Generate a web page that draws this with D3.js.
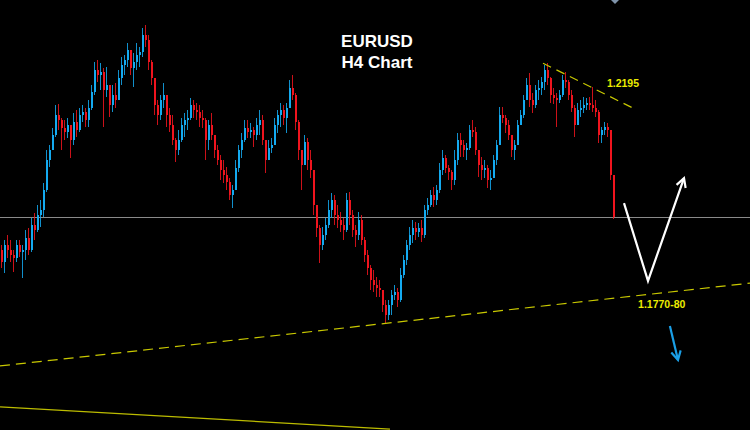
<!DOCTYPE html>
<html><head><meta charset="utf-8">
<script src="https://cdn.jsdelivr.net/npm/d3@7/dist/d3.min.js"></script>
<style>html,body{margin:0;padding:0;background:#000;}svg{display:block;}</style>
</head><body><svg id="c" width="750" height="430"></svg>
<script>
const firstOpen = 1.1858;
const highs = [1.1869,1.1880,1.1891,1.1880,1.1858,1.1880,1.1880,1.1869,1.1902,1.1906,
1.1928,1.1939,1.1957,1.1968,1.2005,1.2078,1.2089,1.2126,1.2177,1.2179,
1.2148,1.2144,1.2148,1.2133,1.2159,1.2166,1.2170,1.2177,1.2170,1.2188,
1.2221,1.2272,1.2276,1.2269,1.2258,1.2261,1.2221,1.2221,1.2225,1.2254,
1.2283,1.2287,1.2313,1.2298,1.2291,1.2313,1.2305,1.2346,1.2353,1.2331,
1.2276,1.2236,1.2188,1.2199,1.2225,1.2188,1.2170,1.2155,1.2104,1.2122,
1.2148,1.2159,1.2166,1.2192,1.2188,1.2181,1.2177,1.2166,1.2148,1.2144,
1.2159,1.2111,1.2089,1.2067,1.2056,1.2041,1.2016,1.2001,1.2056,1.2089,
1.2115,1.2144,1.2144,1.2137,1.2129,1.2148,1.2166,1.2155,1.2100,1.2100,
1.2104,1.2148,1.2166,1.2181,1.2177,1.2181,1.2232,1.2243,1.2203,1.2144,
1.2078,1.2111,1.2104,1.2078,1.2034,1.1957,1.1913,1.1909,1.1928,1.1968,
1.1983,1.1979,1.1957,1.1942,1.1928,1.1983,1.1986,1.1946,1.1913,1.1942,
1.1935,1.1887,1.1858,1.1825,1.1814,1.1799,1.1792,1.1770,1.1748,1.1748,
1.1770,1.1781,1.1774,1.1818,1.1847,1.1880,1.1909,1.1924,1.1920,1.1917,
1.1924,1.1957,1.1972,1.1990,1.1997,1.2001,1.2049,1.2078,1.2067,1.2045,
1.2034,1.2078,1.2115,1.2115,1.2100,1.2093,1.2133,1.2144,1.2129,1.2078,
1.2063,1.2056,1.2045,1.2034,1.2067,1.2100,1.2173,1.2173,1.2155,1.2144,
1.2107,1.2100,1.2144,1.2166,1.2199,1.2236,1.2247,1.2203,1.2221,1.2232,
1.2239,1.2265,1.2269,1.2239,1.2214,1.2203,1.2210,1.2243,1.2250,1.2232,
1.2210,1.2177,1.2181,1.2188,1.2195,1.2192,1.2195,1.2217,1.2188,1.2166,
1.2129,1.2140,1.2137,1.2122,1.2023];
const lows = [1.1818,1.1807,1.1840,1.1832,1.1810,1.1832,1.1843,1.1796,1.1836,1.1847,
1.1854,1.1880,1.1898,1.1909,1.1931,1.1986,1.2041,1.2078,1.2107,1.2122,
1.2078,1.2100,1.2104,1.2060,1.2089,1.2107,1.2118,1.2140,1.2129,1.2129,
1.2166,1.2199,1.2228,1.2210,1.2129,1.2195,1.2151,1.2162,1.2170,1.2188,
1.2221,1.2243,1.2261,1.2243,1.2217,1.2254,1.2261,1.2283,1.2305,1.2254,
1.2221,1.2155,1.2133,1.2144,1.2170,1.2129,1.2118,1.2089,1.2052,1.2067,
1.2096,1.2107,1.2122,1.2144,1.2148,1.2144,1.2129,1.2126,1.2056,1.2078,
1.2100,1.2060,1.2045,1.2012,1.2005,1.1990,1.1968,1.1950,1.1990,1.2030,
1.2060,1.2096,1.2104,1.2104,1.2085,1.2100,1.2111,1.2089,1.2027,1.2056,
1.2071,1.2089,1.2115,1.2129,1.2133,1.2115,1.2177,1.2188,1.2122,1.2056,
1.1990,1.2045,1.2034,1.2016,1.1935,1.1887,1.1829,1.1858,1.1880,1.1906,
1.1928,1.1913,1.1906,1.1898,1.1880,1.1898,1.1913,1.1887,1.1865,1.1880,
1.1869,1.1832,1.1803,1.1770,1.1766,1.1755,1.1755,1.1722,1.1697,1.1704,
1.1715,1.1748,1.1733,1.1744,1.1796,1.1825,1.1858,1.1873,1.1880,1.1887,
1.1876,1.1884,1.1935,1.1953,1.1953,1.1957,1.1983,1.2023,1.2027,1.2012,
1.1990,1.2001,1.2045,1.2063,1.2063,1.2056,1.2078,1.2107,1.2067,1.2019,
1.2012,1.2016,1.1994,1.1990,1.2023,1.2045,1.2100,1.2137,1.2115,1.2100,
1.2063,1.2056,1.2089,1.2133,1.2148,1.2188,1.2173,1.2159,1.2170,1.2188,
1.2199,1.2210,1.2221,1.2181,1.2179,1.2129,1.2181,1.2195,1.2214,1.2188,
1.2162,1.2107,1.2133,1.2151,1.2159,1.2166,1.2166,1.2162,1.2151,1.2093,
1.2093,1.2111,1.2107,1.2012,1.1926];
const closes = [1.1832,1.1869,1.1858,1.1847,1.1840,1.1869,1.1854,1.1858,1.1884,1.1858,
1.1913,1.1902,1.1935,1.1946,1.1990,1.2056,1.2078,1.2111,1.2155,1.2144,
1.2126,1.2118,1.2133,1.2100,1.2140,1.2122,1.2155,1.2162,1.2144,1.2170,
1.2206,1.2254,1.2243,1.2250,1.2210,1.2221,1.2177,1.2199,1.2188,1.2236,
1.2265,1.2276,1.2298,1.2258,1.2272,1.2287,1.2294,1.2331,1.2320,1.2272,
1.2236,1.2177,1.2155,1.2188,1.2199,1.2155,1.2133,1.2100,1.2078,1.2100,
1.2133,1.2144,1.2148,1.2177,1.2166,1.2162,1.2148,1.2144,1.2100,1.2133,
1.2111,1.2078,1.2056,1.2034,1.2023,1.2008,1.1979,1.1990,1.2038,1.2078,
1.2100,1.2126,1.2118,1.2122,1.2111,1.2133,1.2144,1.2100,1.2056,1.2082,
1.2089,1.2133,1.2155,1.2166,1.2148,1.2170,1.2214,1.2199,1.2140,1.2078,
1.2045,1.2096,1.2056,1.2034,1.1957,1.1906,1.1869,1.1891,1.1913,1.1946,
1.1968,1.1935,1.1924,1.1913,1.1902,1.1968,1.1935,1.1902,1.1891,1.1924,
1.1880,1.1847,1.1818,1.1792,1.1781,1.1774,1.1770,1.1737,1.1715,1.1737,
1.1759,1.1766,1.1748,1.1803,1.1836,1.1869,1.1891,1.1906,1.1898,1.1906,
1.1891,1.1946,1.1957,1.1979,1.1968,1.1990,1.2034,1.2060,1.2038,1.2030,
1.2012,1.2056,1.2100,1.2089,1.2078,1.2082,1.2122,1.2118,1.2078,1.2045,
1.2034,1.2038,1.2012,1.2016,1.2056,1.2089,1.2155,1.2148,1.2133,1.2111,
1.2078,1.2089,1.2133,1.2155,1.2188,1.2221,1.2188,1.2177,1.2210,1.2214,
1.2228,1.2254,1.2236,1.2199,1.2192,1.2188,1.2199,1.2232,1.2228,1.2199,
1.2170,1.2133,1.2166,1.2170,1.2177,1.2181,1.2177,1.2170,1.2162,1.2111,
1.2122,1.2129,1.2122,1.2023,1.1931];
// Annotations in (candle index, price) space
const resistanceLine = [[181, 1.2269], [212.3, 1.2166]];
const supportLine = [[0, 1.1603], [250, 1.1785]];
const lowerLine = [[0, 1.1513], [130, 1.1464]];
const scenarioPath = [[208, 1.1961], [216, 1.1790], [228, 1.2016]];
const downArrow = [[223.3, 1.1691], [226, 1.1616]];
const labels = [{text: "1.2195", i: 202.3, p: 1.2217}, {text: "1.1770-80", i: 212.7, p: 1.1730}];
const titleLines = ["EURUSD", "H4 Chart"];

const W = 750, H = 430;
const svg = d3.select("#c");
svg.append("rect").attr("width", W).attr("height", H).attr("fill", "#000");

const x = d3.scaleLinear().domain([0, 205]).range([0, 615]);
const y = d3.scaleLinear().domain([1.2408 - 0.00022 * 430, 1.2408]).range([H, 0]);

const candles = closes.map((c, i) => {
  const o = i === 0 ? firstOpen : closes[i - 1];
  return {i, o, c, h: Math.max(highs[i], o, c), l: Math.min(lows[i], o, c)};
});
const bull = "#14aaf0", bear = "#f0141e";

// current price line
svg.append("line").attr("x1", 0).attr("x2", W)
  .attr("y1", Math.round(y(closes[closes.length - 1])) + 0.5)
  .attr("y2", Math.round(y(closes[closes.length - 1])) + 0.5)
  .attr("stroke", "#8a8a8a").attr("stroke-width", 1);

const g = svg.append("g").attr("shape-rendering", "crispEdges");
g.selectAll("line.w").data(candles).join("line").attr("class", "w")
  .attr("x1", d => Math.floor(x(d.i + 0.5)) + 0.5).attr("x2", d => Math.floor(x(d.i + 0.5)) + 0.5)
  .attr("y1", d => y(d.h)).attr("y2", d => y(d.l))
  .attr("stroke", d => d.c >= d.o ? bull : bear).attr("stroke-width", 1).attr("opacity", 0.85);
g.selectAll("rect.b").data(candles).join("rect").attr("class", "b")
  .attr("x", d => Math.floor(x(d.i + 0.5)) - 0.5).attr("width", 2)
  .attr("y", d => y(Math.max(d.o, d.c)))
  .attr("height", d => Math.max(1, Math.abs(y(d.o) - y(d.c))))
  .attr("fill", d => d.c >= d.o ? bull : bear);

const line = d3.line().x(d => x(d[0])).y(d => y(d[1]));
svg.append("path").attr("d", line(resistanceLine)).attr("fill", "none")
  .attr("stroke", "#c8c800").attr("stroke-width", 1.2).attr("stroke-dasharray", "9,6");
svg.append("path").attr("d", line(supportLine)).attr("fill", "none")
  .attr("stroke", "#c8c800").attr("stroke-width", 1.2).attr("stroke-dasharray", "10,6");
svg.append("path").attr("d", line(lowerLine)).attr("fill", "none")
  .attr("stroke", "#bcbc00").attr("stroke-width", 1.2);

function arrow(pts, color) {
  svg.append("path").attr("d", line(pts)).attr("fill", "none")
    .attr("stroke", color).attr("stroke-width", 2.2).attr("stroke-linejoin", "miter");
  const a = pts[pts.length - 2], b = pts[pts.length - 1];
  const x1 = x(a[0]), y1 = y(a[1]), x2 = x(b[0]), y2 = y(b[1]);
  const ang = Math.atan2(y2 - y1, x2 - x1), L = 10, s = 0.5;
  const p1 = [x2 - L * Math.cos(ang - s), y2 - L * Math.sin(ang - s)];
  const p2 = [x2 - L * Math.cos(ang + s), y2 - L * Math.sin(ang + s)];
  svg.append("path").attr("d", `M${p1[0]},${p1[1]}L${x2},${y2}L${p2[0]},${p2[1]}`)
    .attr("fill", "none").attr("stroke", color).attr("stroke-width", 2.2);
}
arrow(scenarioPath, "#ffffff");
arrow(downArrow, "#1a9fe6");

// small partially visible marker at top edge
svg.append("path").attr("d", "M611,0 L615,4 L619,0").attr("fill", "#7f93aa");

svg.selectAll("text.lbl").data(labels).join("text").attr("class", "lbl")
  .attr("x", d => x(d.i)).attr("y", d => y(d.p))
  .attr("fill", "#ecec00").attr("font-family", "Liberation Sans, Arial, sans-serif")
  .attr("font-weight", "bold").attr("font-size", "10.5px").text(d => d.text);

svg.selectAll("text.t").data(titleLines).join("text").attr("class", "t")
  .attr("x", 377).attr("y", (d, i) => 47 + i * 21).attr("text-anchor", "middle")
  .attr("fill", "#fff").attr("font-family", "Liberation Sans, Arial, sans-serif")
  .attr("font-weight", "bold").attr("font-size", "17px").text(d => d);
</script></body></html>
